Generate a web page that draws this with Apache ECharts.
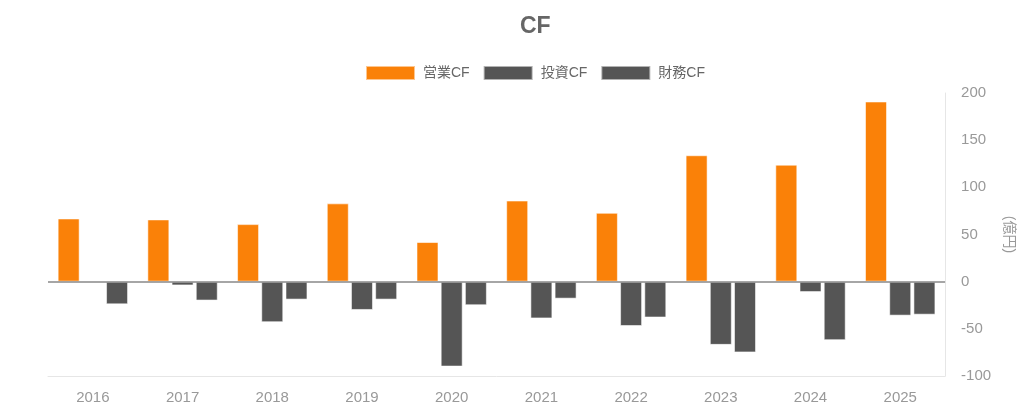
<!DOCTYPE html>
<html>
<head>
<meta charset="utf-8">
<script src="https://cdn.jsdelivr.net/npm/echarts@6/dist/echarts.min.js"></script>
<style>html,body{margin:0;padding:0;background:#fff}#c{width:1024px;height:411px}</style>
</head>
<body>
<div id="c"></div>
<script>
const categories = ['2016','2017','2018','2019','2020','2021','2022','2023','2024','2025'];
const operatingCF = [67, 66, 61, 83, 42, 86, 73, 134, 124, 191];
const investingCF = [null, -4, -43, -30, -90, -39, -47, -67, -11, -36];
const financingCF = [-24, -20, -19, -19, -25, -18, -38, -75, -62, -35];
const seriesNames = ['営業CF', '投資CF', '財務CF'];

const chart = echarts.init(document.getElementById('c'));
const font = '"Liberation Sans", Arial, "Noto Sans CJK JP", sans-serif';
const barBase = {
  type: 'bar',
  barWidth: 22,
  barGap: '10%',
  itemStyle: { borderColor: 'rgba(255,255,255,0.55)', borderWidth: 1 }
};
chart.setOption({
  animation: false,
  textStyle: { fontFamily: font },
  title: {
    text: 'CF',
    left: 515,
    top: 10,
    textStyle: { fontSize: 23, fontWeight: 'bold', color: '#666', fontFamily: font }
  },
  legend: {
    left: 365,
    top: 65,
    padding: 0,
    icon: 'rect',
    itemWidth: 49,
    itemHeight: 14,
    itemGap: 13,
    textStyle: { fontSize: 14, color: '#666', fontFamily: font, padding: [0, 0, 0, 3] },
    data: seriesNames
  },
  grid: { left: 48, right: 78, top: 93, bottom: 35 },
  xAxis: {
    type: 'category',
    data: categories,
    axisLine: { onZero: false, lineStyle: { color: '#e6e6e6', width: 1 } },
    axisTick: { show: false },
    axisLabel: { color: '#999', fontSize: 15, margin: 14, fontFamily: font }
  },
  yAxis: {
    type: 'value',
    position: 'right',
    min: -100,
    max: 200,
    interval: 50,
    name: '(億円)',
    nameLocation: 'middle',
    nameRotate: -90,
    nameGap: 56,
    nameTextStyle: { color: '#999', fontSize: 14, fontFamily: font },
    axisLine: { show: true, lineStyle: { color: '#e6e6e6' } },
    axisTick: { show: false },
    splitLine: { show: false },
    axisLabel: { color: '#999', fontSize: 15, margin: 16, fontFamily: font }
  },
  color: ['#fa8108', '#555555', '#555555'],
  series: [
    Object.assign({}, barBase, {
      name: seriesNames[0],
      data: operatingCF,
      markLine: {
        silent: true,
        symbol: 'none',
        label: { show: false },
        lineStyle: { color: '#888', width: 1.5, type: 'solid' },
        data: [{ yAxis: 0 }]
      }
    }),
    Object.assign({}, barBase, { name: seriesNames[1], data: investingCF }),
    Object.assign({}, barBase, { name: seriesNames[2], data: financingCF })
  ]
});
</script>
</body>
</html>
